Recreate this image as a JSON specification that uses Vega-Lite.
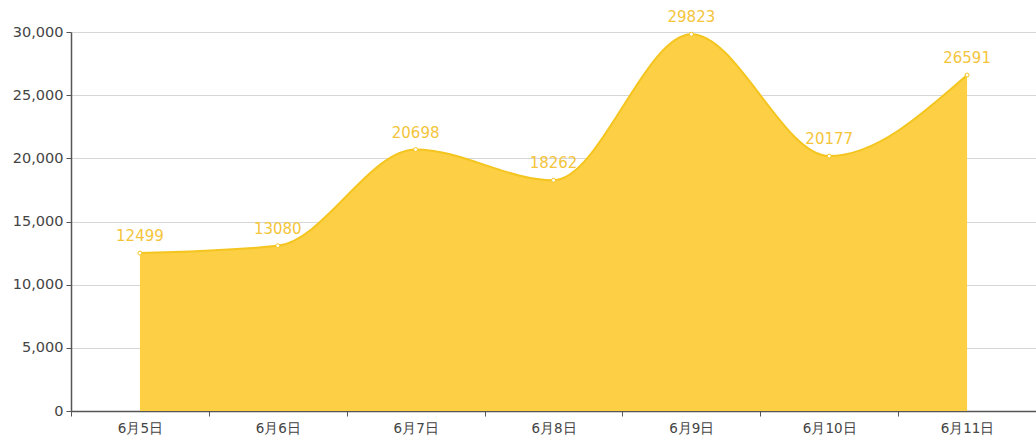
{
  "$schema": "https://vega.github.io/schema/vega-lite/v6.json",
  "autosize": {"type": "none"},
  "width": 965,
  "height": 379,
  "padding": {"left": 71, "top": 32, "right": 0, "bottom": 30},
  "background": "white",
  "data": {"values": [
    {"date": "6月5日", "value": 12499},
    {"date": "6月6日", "value": 13080},
    {"date": "6月7日", "value": 20698},
    {"date": "6月8日", "value": 18262},
    {"date": "6月9日", "value": 29823},
    {"date": "6月10日", "value": 20177},
    {"date": "6月11日", "value": 26591}
  ]},
  "config": {
    "view": {"stroke": null},
    "font": "DejaVu Sans"
  },
  "encoding": {
    "x": {
      "field": "date", "type": "ordinal", "sort": null, "bandPosition": 0.5,
      "scale": {"type": "band", "paddingInner": 0, "paddingOuter": 0},
      "axis": {
        "title": null, "labelAngle": 0, "tickBand": "extent",
        "domainColor": "#555", "domainWidth": 1.5, "tickColor": "#555", "tickSize": 5,
        "labelColor": "#444", "labelFontSize": 13.5, "labelPadding": 5, "grid": false
      }
    },
    "y": {
      "field": "value", "type": "quantitative",
      "scale": {"domain": [0, 30000], "nice": false},
      "axis": {
        "title": null, "values": [0, 5000, 10000, 15000, 20000, 25000, 30000], "format": ",.0f",
        "domainColor": "#555", "domainWidth": 1.5, "tickColor": "#555", "tickSize": 5,
        "labelColor": "#444", "labelFontSize": 14.5, "labelPadding": 3,
        "grid": true, "gridColor": "#d6d6d6", "gridWidth": 1
      }
    }
  },
  "layer": [
    {"mark": {"type": "area", "interpolate": "monotone", "color": "#FCCF45", "opacity": 1}},
    {"mark": {"type": "line", "interpolate": "monotone", "color": "#F5C51F", "strokeWidth": 2}},
    {"mark": {"type": "point", "filled": true, "fill": "white", "stroke": "#F5C51F", "strokeWidth": 1, "size": 16, "opacity": 1}},
    {"mark": {"type": "text", "dy": -9, "baseline": "bottom", "fontSize": 15, "color": "#F4C53A"}, "encoding": {"text": {"field": "value", "type": "quantitative", "format": "d"}}}
  ]
}
